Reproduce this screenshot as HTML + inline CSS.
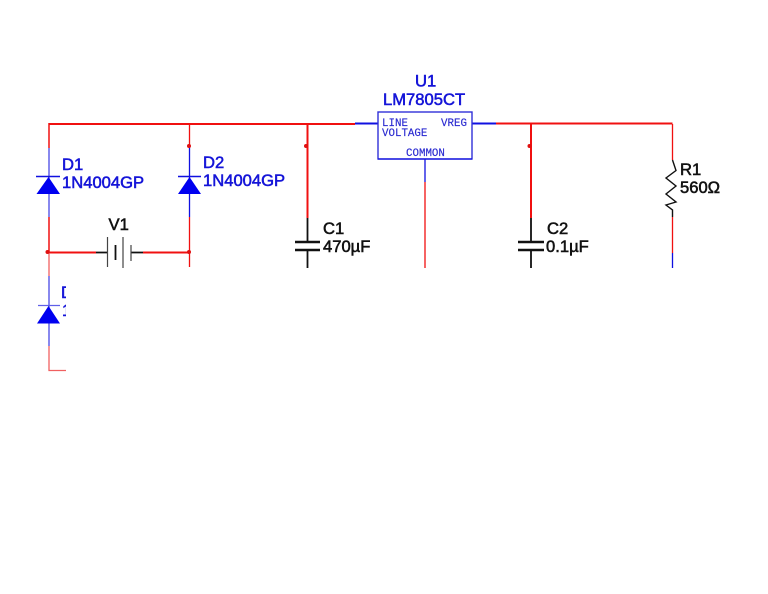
<!DOCTYPE html>
<html><head><meta charset="utf-8"><style>html,body{margin:0;padding:0;background:#fff;width:768px;height:594px;overflow:hidden}svg{display:block}
text{font-family:"Liberation Sans",sans-serif;font-size:16.6px}
.b{fill:#1414d8;stroke:#1414d8;stroke-width:.55}.k{fill:#111;stroke:#111;stroke-width:.55}
.m{font-family:"Liberation Mono",monospace;font-size:10.8px;fill:#2a2ad0;stroke:#2a2ad0;stroke-width:.15}</style></head><body>
<svg width="768" height="594" viewBox="0 0 768 594" xmlns="http://www.w3.org/2000/svg">
<g fill="none" stroke="#f01010">
<path d="M49 124H355M496 123.5H672.5" stroke-width="2"/>
<path d="M49 123V148M49 217V253" stroke-width="1.5"/>
<path d="M189.5 124V147M189.5 217V267" stroke-width="1.3"/>
<path d="M47 252.5H96M143 252.5H189" stroke-width="2"/>
<path d="M307.5 124V218M531 124V218" stroke-width="2"/>
<path d="M425 182V268M672.5 124V160M672.5 217V253" stroke-width="1.3"/>
<path d="M49 253V276" stroke-width="1.3" stroke="#f06060"/>
<path d="M49 346V370.5H66" stroke-width="1.3" stroke="#f06060"/>
</g>
<g fill="none" stroke="#1010e0">
<path d="M49 148V217M49 276V346" stroke-width="1.5" stroke="#6060e8"/>
<path d="M189.5 147V217" stroke-width="1.3"/>
<path d="M355 123.5H378M472 123.5H496" stroke-width="2"/>
<path d="M425 159V182M672.5 253V268" stroke-width="1.3"/>
<path d="M36 176.5H60M178 176.5H201" stroke-width="1.5"/>
<path d="M38 305.5H60" stroke-width="1.2" stroke="#6060e8"/>
<rect x="378" y="112" width="94" height="47" stroke="#3030d8" stroke-width="1.4"/>
<path d="M378 159H472" stroke-width="1.2"/>
</g>
<g fill="#0000f0">
<path d="M48.5 177L60 194H36.5Z"/><path d="M189.5 177L201 194H178Z"/><path d="M48.5 306L60 323.5H37Z"/>
</g>
<g fill="#e01010"><circle cx="189" cy="146" r="2"/><circle cx="47.500" cy="252" r="2"/><circle cx="189" cy="252" r="2"/><circle cx="306" cy="146" r="2"/><circle cx="529.500" cy="146" r="2"/></g>
<g fill="none" stroke="#111">
<path d="M96 252.5H107M131 252.5H143" stroke-width="1.8"/>
<path d="M107.5 237V267M123 237V268" stroke-width="1.2" stroke="#444"/>
<path d="M115.5 245V260" stroke-width="1.8"/><path d="M131 245V261" stroke-width="1.2" stroke="#444"/>
<path d="M307.5 218V242M307.5 250V268M531 218V242M531 250V268" stroke-width="1.8"/>
<path d="M295 242H320M295 250H320M518 242H544M518 250H544" stroke-width="2.4"/>
<path d="M672.5 160L676 170.5L666 178L676 186L666 194L676 202L666 205L672.5 210V217" stroke-width="1.4"/>
</g>
<text x="62" y="170" class="b">D1</text><text x="62" y="188" class="b">1N4004GP</text>
<text x="203" y="168" class="b">D2</text><text x="203" y="186" class="b">1N4004GP</text>
<text x="108.500" y="230" class="k">V1</text>
<text x="415" y="86.500" class="b">U1</text><text x="383" y="105" class="b">LM7805CT</text>
<text x="323" y="234" class="k">C1</text><text x="323" y="252" class="k">470µF</text>
<text x="547" y="234" class="k">C2</text><text x="546" y="252" class="k">0.1µF</text>
<text x="680" y="175" class="k">R1</text><text x="680" y="193" class="k">560Ω</text>
<text x="382" y="126" class="m">LINE</text><text x="382" y="136" class="m">VOLTAGE</text><text x="441" y="126" class="m">VREG</text><text x="406" y="156" class="m">COMMON</text>
<svg x="60" y="280" width="6" height="40"><text x="1" y="18" class="b">D</text><text x="2" y="36" class="b">1</text></svg>
</svg></body></html>
